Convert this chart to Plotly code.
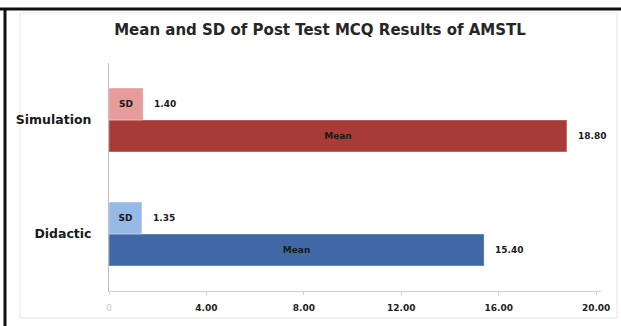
import plotly.graph_objects as go

# Post test MCQ results by teaching method
categories = ["Didactic", "Simulation"]
mean_values = [15.40, 18.80]
sd_values = [1.35, 1.40]
mean_colors = ["#4068A6", "#A83A38"]
sd_colors = ["#97B9E6", "#E59C9A"]
tick_vals = [0, 4, 8, 12, 16, 20]
tick_text = ["<span style='color:#c8c8c8'>0</span>", "<b>4.00</b>", "<b>8.00</b>",
             "<b>12.00</b>", "<b>16.00</b>", "<b>20.00</b>"]

W, H = 621, 326
L, R, T, B = 109, 20, 63, 35
plot_w = W - L - R
plot_h = H - T - B


def px_x(px):
    return (px - L) / plot_w


def px_y(py):
    return (H - B - py) / plot_h


FONT = "DejaVu Sans, Open Sans, sans-serif"
label_font = dict(family=FONT, size=9, color="#1a1a1a")

fig = go.Figure()
fig.add_trace(go.Bar(
    y=categories, x=mean_values, orientation="h", name="Mean",
    marker=dict(color=mean_colors, line=dict(color="rgba(255,255,255,0.35)", width=1)),
    text=["<b>Mean</b>"] * len(categories), textposition="inside",
    insidetextanchor="middle", textfont=label_font, showlegend=False,
    hoverinfo="x+y",
))
fig.add_trace(go.Bar(
    y=categories, x=sd_values, orientation="h", name="SD",
    marker=dict(color=sd_colors, line=dict(color="rgba(255,255,255,0.35)", width=1)),
    text=["<b>SD</b>"] * len(categories), textposition="inside",
    insidetextanchor="middle", textfont=label_font, showlegend=False,
    hoverinfo="x+y",
))

# value labels just past the end of each bar
annotations = []
for i, cat in enumerate(categories):
    for val, off in ((mean_values[i], -0.14), (sd_values[i], 0.14)):
        annotations.append(dict(
            x=val, y=i + off, xref="x", yref="y", text=f"<b>{val:.2f}</b>",
            showarrow=False, xanchor="left", xshift=9, font=label_font,
        ))

# outer frame lines
shapes = [
    dict(type="rect", xref="paper", yref="paper",
         x0=px_x(20), x1=px_x(617), y0=px_y(318), y1=px_y(13),
         line=dict(color="#e6e6e6", width=1), layer="below"),
    dict(type="line", xref="paper", yref="paper",
         x0=px_x(0), x1=px_x(W), y0=px_y(9), y1=px_y(9),
         line=dict(color="#111111", width=3)),
    dict(type="line", xref="paper", yref="paper",
         x0=px_x(5), x1=px_x(5), y0=px_y(8), y1=px_y(H),
         line=dict(color="#111111", width=3)),
]

fig.update_layout(
    width=W, height=H,
    margin=dict(l=L, r=R, t=T, b=B),
    paper_bgcolor="white", plot_bgcolor="white",
    barmode="group", bargap=0.44, bargroupgap=0,
    title=dict(text="<b>Mean and SD of Post Test MCQ Results of AMSTL</b>",
               x=320 / W, xanchor="center", y=1 - 30 / H, yanchor="middle",
               font=dict(family=FONT, size=15, color="#262626")),
    xaxis=dict(range=[0, 20.2], tickvals=tick_vals, ticktext=tick_text,
               showgrid=False, zeroline=False, showline=True,
               linecolor="#d0d0d0", linewidth=1, ticks="outside", ticklen=3,
               tickcolor="#d0d0d0", ticklabelstandoff=5,
               tickfont=dict(family=FONT, size=9, color="#222222")),
    yaxis=dict(range=[-0.5, 1.5], showgrid=False, zeroline=False, showline=True,
               linecolor="#bdbdbd", linewidth=1, ticks="", ticklabelstandoff=14,
               tickfont=dict(family=FONT, size=12.5, color="#1a1a1a"),
               tickvals=[0, 1], ticktext=["<b>Didactic</b>", "<b>Simulation</b>"]),
    annotations=annotations,
    shapes=shapes,
    font=dict(family=FONT),
)

fig.write_html("out.html")
